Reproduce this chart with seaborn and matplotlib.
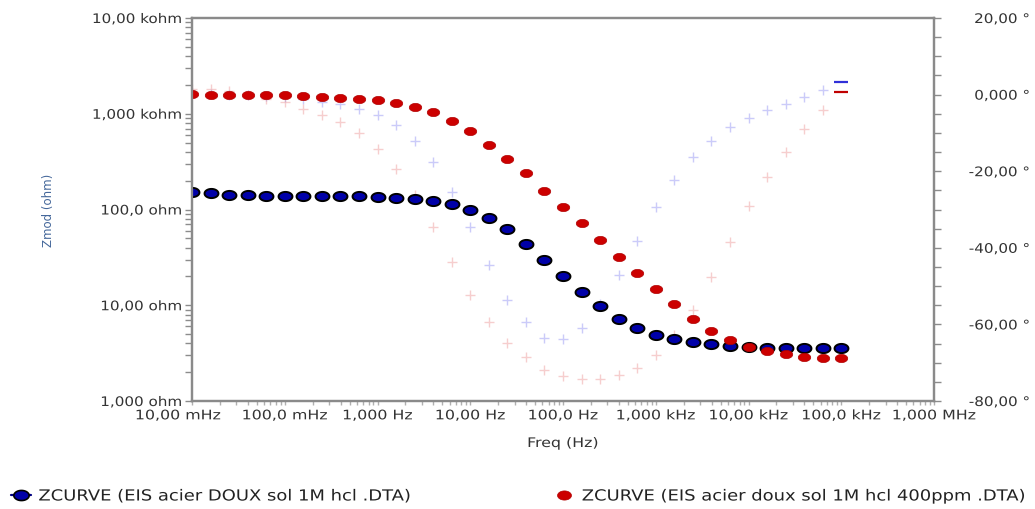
import numpy as np
import pandas as pd
import matplotlib
matplotlib.use("Agg")
import matplotlib.pyplot as plt
import matplotlib.transforms as mtransforms
from matplotlib import patheffects
from matplotlib.path import Path
from matplotlib.lines import Line2D
from matplotlib.ticker import FixedLocator, LogLocator, NullFormatter, MultipleLocator
import seaborn as sns

# ---------------- data ----------------
freq_hz = [0.01, 0.01585, 0.02512, 0.03981, 0.0631,
           0.1, 0.1585, 0.2512, 0.3981, 0.631,
           1.0, 1.585, 2.512, 3.981, 6.31,
           10.0, 15.85, 25.12, 39.81, 63.1,
           100.0, 158.5, 251.2, 398.1, 631.0,
           1000.0, 1585.0, 2512.0, 3981.0, 6310.0,
           10000.0, 15850.0, 25120.0, 39810.0, 63100.0,
           100000.0]

zmod_doux = [152, 148, 142, 141, 140, 139, 138, 138, 137, 137,
             136, 133, 129, 123, 114, 99.8, 81, 62.7, 44, 29.5,
             20.1, 13.8, 9.77, 7.24, 5.75, 4.93, 4.45, 4.14, 3.91, 3.76,
             3.67, 3.61, 3.55, 3.55, 3.55, 3.55]

zmod_400ppm = [1614, 1575, 1585, 1575, 1565, 1565, 1550, 1513, 1477, 1442,
               1387, 1300, 1180, 1039, 843, 658, 476, 338, 238, 156,
               106, 72, 47.8, 32.2, 21.6, 14.8, 10.2, 7.24, 5.43, 4.34,
               3.69, 3.31, 3.08, 2.90, 2.83, 2.81]

phase_doux = [0.5, 0.2, 0.0, -0.2, -0.4, -0.7, -1.1, -1.85, -2.45, -3.76,
              -5.27, -7.94, -12.0, -17.7, -25.5, -34.6, -44.5, -53.5, -59.4, -63.5,
              -63.8, -61.0, -54.7, -47.2, -38.1, -29.3, -22.2, -16.4, -12.0, -8.5,
              -6.2, -4.0, -2.45, -0.55, 1.2, 3.37]

phase_400ppm = [1.5, 1.46, 1.0, 0.0, -1.15, -2.0, -3.76, -5.33, -7.24, -10.1,
                -14.2, -19.4, -26.2, -34.6, -43.8, -52.3, -59.4, -64.9, -68.6, -71.8,
                -73.5, -74.3, -74.3, -73.2, -71.4, -67.9, -62.8, -56.2, -47.7, -38.4,
                -29.2, -21.5, -15.0, -9.0, -4.0, 0.6]

x_ticks = [0.01, 0.1, 1, 10, 100, 1e3, 1e4, 1e5, 1e6]
x_ticklabels = ["10,00 mHz", "100,0 mHz", "1,000 Hz", "10,00 Hz", "100,0 Hz",
                "1,000 kHz", "10,00 kHz", "100,0 kHz", "1,000 MHz"]
z_ticks = [1, 10, 100, 1000, 10000]
z_ticklabels = ["1,000 ohm", "10,00 ohm", "100,0 ohm", "1,000 kohm", "10,00 kohm"]
phase_ticks = [-80, -60, -40, -20, 0, 20]
phase_ticklabels = ["-80,00 °", "-60,00 °", "-40,00 °", "-20,00 °", "0,000 °", "20,00 °"]

label_doux = "ZCURVE (EIS acier DOUX sol 1M hcl .DTA)"
label_400 = "ZCURVE (EIS acier doux sol 1M hcl 400ppm .DTA)"

df_doux = pd.DataFrame({"freq": freq_hz, "zmod": zmod_doux, "phase": phase_doux})
df_400 = pd.DataFrame({"freq": freq_hz, "zmod": zmod_400ppm, "phase": phase_400ppm})


class HStretch(patheffects.AbstractPathEffect):
    """Draw text glyphs stretched horizontally (the reference text is wide)."""

    def __init__(self, sx, anchor="center"):
        super().__init__()
        self.sx = sx
        self.anchor = anchor

    def draw_path(self, renderer, gc, tpath, affine, rgbFace=None):
        ext = tpath.get_extents()
        if self.anchor == "left":
            x0 = ext.x0
        elif self.anchor == "right":
            x0 = ext.x1
        else:
            x0 = 0.5 * (ext.x0 + ext.x1)
        t = mtransforms.Affine2D().translate(-x0, 0).scale(self.sx, 1).translate(x0, 0)
        renderer.draw_path(gc, tpath, t + affine, rgbFace)


# ---------------- style ----------------
sns.set_theme(style="ticks")
plt.rcParams["font.family"] = ["DejaVu Sans"]

W, H = 1035, 510
fig = plt.figure(figsize=(W / 100, H / 100), dpi=100)
L, R, T, B = 192, 934, 19, 402
ax = fig.add_axes([L / W, 1 - B / H, (R - L) / W, (B - T) / H])  # phase axis (drawn below)
ax2 = ax.twinx()                                                  # |Z| axis (drawn on top)

ax.set_xscale("log")
ax.set_xlim(0.01, 1e6)
ax.set_ylim(-80, 20)
ax2.set_yscale("log")
ax2.set_ylim(1, 1e4)

# ellipse marker (the reference markers are wider than tall)
th = np.linspace(0, 2 * np.pi, 61)
ellipse = Path(np.column_stack([np.cos(th), 0.66 * np.sin(th)]), closed=True)

blue_fill = "#0000A8"
red_fill = "#CC0000"
blue_cross = "#7070F0"
red_cross = "#E87878"

# phase crosses
sns.scatterplot(data=df_doux.iloc[:-1], x="freq", y="phase", ax=ax, marker="+",
                s=60, linewidth=1.0, color=blue_cross, alpha=0.36, legend=False)
sns.scatterplot(data=df_400.iloc[:-1], x="freq", y="phase", ax=ax, marker="+",
                s=60, linewidth=1.0, color=red_cross, alpha=0.36, legend=False)
sns.scatterplot(data=df_doux.iloc[-1:], x="freq", y="phase", ax=ax, marker="_",
                s=110, linewidth=1.6, color="#3030D8", legend=False)
sns.scatterplot(data=df_400.iloc[-1:], x="freq", y="phase", ax=ax, marker="_",
                s=110, linewidth=1.6, color="#C00000", legend=False)

# impedance modulus circles
sns.scatterplot(data=df_doux, x="freq", y="zmod", ax=ax2, marker=ellipse,
                s=100, color=blue_fill, edgecolor="black", linewidth=1.4, legend=False)
sns.scatterplot(data=df_400, x="freq", y="zmod", ax=ax2, marker=ellipse,
                s=80, color=red_fill, edgecolor="#B00000", linewidth=0.5, legend=False)

# axis sides: phase on the right, |Z| on the left
ax.yaxis.tick_right()
ax.yaxis.set_label_position("right")
ax2.yaxis.tick_left()
ax2.yaxis.set_label_position("left")

tick_color = "#8c8c8c"
label_color = "#333333"
for a in (ax, ax2):
    for s in a.spines.values():
        s.set_visible(True)
        s.set_color("#8a8a8a")
        s.set_linewidth(1.6)

# x axis
ax.xaxis.set_major_locator(FixedLocator(x_ticks))
ax.set_xticklabels(x_ticklabels)
ax.xaxis.set_minor_locator(LogLocator(base=10, subs=np.arange(2, 10), numticks=20))
ax.xaxis.set_minor_formatter(NullFormatter())
ax.tick_params(axis="x", which="both", direction="out", length=3, width=1,
               color="#b0b0b0", pad=3, labelsize=9.5, labelcolor=label_color)

# phase (right) axis
ax.yaxis.set_major_locator(FixedLocator(phase_ticks))
ax.set_yticklabels(phase_ticklabels)
ax.yaxis.set_minor_locator(MultipleLocator(5))
ax.tick_params(axis="y", which="both", direction="out", length=5, width=1,
               color=tick_color, pad=64, labelsize=9.5, labelcolor=label_color)
ax.set_ylabel("")

# |Z| (left) axis
ax2.yaxis.set_major_locator(FixedLocator(z_ticks))
ax2.set_yticklabels(z_ticklabels)
ax2.yaxis.set_minor_locator(LogLocator(base=10, subs=np.arange(2, 10), numticks=20))
ax2.yaxis.set_minor_formatter(NullFormatter())
ax2.tick_params(axis="y", which="both", direction="out", length=5, width=1,
                color=tick_color, pad=2, labelsize=9.5, labelcolor=label_color)
ax2.set_ylabel("Zmod (ohm)", fontsize=8.5, color="#44679a")
ax2.yaxis.set_label_coords((55 - L) / (R - L), 0.5)
ax.set_xlabel("Freq (Hz)", fontsize=9.5, color=label_color)
ax.xaxis.set_label_coords(0.5, -(438 - B) / (B - T))

for lab in ax.get_xticklabels():
    lab.set_path_effects([HStretch(1.2, "center")])
for lab in ax.get_yticklabels():
    lab.set_horizontalalignment("right")
    lab.set_path_effects([HStretch(1.15, "right")])
for lab in ax2.get_yticklabels():
    lab.set_path_effects([HStretch(1.15, "right")])
ax.xaxis.label.set_path_effects([HStretch(1.2, "center")])

# first x tick label is nudged left in the reference
first = ax.get_xticklabels()[0]
first.set_transform(first.get_transform() +
                    mtransforms.ScaledTranslation(-14 / 100, 0, fig.dpi_scale_trans))

# legend
handles = [
    Line2D([], [], color="#000080", lw=1.6, marker=ellipse, markersize=11,
           markerfacecolor=blue_fill, markeredgecolor="black", markeredgewidth=1.2),
    Line2D([], [], color=red_fill, lw=0, marker=ellipse, markersize=10,
           markerfacecolor=red_fill, markeredgecolor="#B00000", markeredgewidth=0.5),
]
leg = fig.legend(handles, [label_doux, label_400], loc="center left",
                 bbox_to_anchor=(11 / W, 1 - 497 / H), ncol=2, frameon=False,
                 fontsize=11, handlelength=1.3, handletextpad=0.5, columnspacing=13.0,
                 borderpad=0, borderaxespad=0, labelcolor="#222222")
for t in leg.get_texts():
    t.set_path_effects([HStretch(1.175, "left")])

fig.savefig("out.png", dpi=100)
